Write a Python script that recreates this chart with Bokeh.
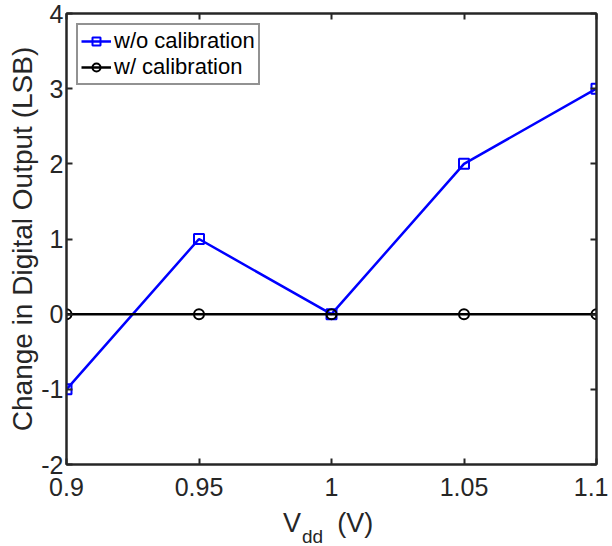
from bokeh.plotting import figure
from bokeh.models import Range1d, LinearAxis, FixedTicker, Div
from bokeh.layouts import column
from bokeh.embed import file_html
from bokeh.resources import INLINE

vdd = [0.9, 0.95, 1.0, 1.05, 1.1]
without_cal = [-1, 1, 0, 2, 3]
with_cal = [0, 0, 0, 0, 0]
x_ticks = [0.9, 0.95, 1.0, 1.05, 1.1]
x_tick_labels = ["0.9", "0.95", "1", "1.05", "1.1"]
y_ticks = [-2, -1, 0, 1, 2, 3, 4]
y_tick_labels = ["-2", "-1", "0", "1", "2", "3", "4"]

FONT = "Liberation Sans"
AX = "#262626"

p = figure(output_backend="svg", toolbar_location=None,
           x_range=Range1d(0.9, 1.1), y_range=Range1d(-2, 4),
           frame_width=530, frame_height=451,
           min_border_left=66, min_border_right=12, min_border_top=13, min_border_bottom=42)
p.grid.visible = False
p.outline_line_color = AX
p.outline_line_width = 2
p.background_fill_color = "white"
p.border_fill_color = "white"

p.line(vdd, without_cal, line_color="#0000ff", line_width=2.5, legend_label="w/o calibration")
p.scatter(vdd, without_cal, marker="square", size=10, line_color="#0000ff", line_width=2,
          fill_color=None, legend_label="w/o calibration")
p.line(vdd, with_cal, line_color="black", line_width=2.5, legend_label="w/ calibration")
p.scatter(vdd, with_cal, marker="circle", size=10, line_color="black", line_width=2,
          fill_color=None, legend_label="w/ calibration")

p.add_layout(LinearAxis(), "right")
p.add_layout(LinearAxis(), "above")

for ax in p.xaxis:
    ax.ticker = FixedTicker(ticks=x_ticks)
for ax in p.yaxis:
    ax.ticker = FixedTicker(ticks=y_ticks)

for ax in list(p.xaxis) + list(p.yaxis):
    ax.axis_line_color = AX
    ax.axis_line_width = 2
    ax.major_tick_line_color = AX
    ax.major_tick_line_width = 2
    ax.major_tick_in = 6
    ax.major_tick_out = 0
    ax.minor_tick_line_color = None
    ax.major_label_text_font = FONT
    ax.major_label_text_font_size = "25px"
    ax.major_label_text_color = AX

p.below[0].major_label_overrides = {t: s for t, s in zip(x_ticks, x_tick_labels)}
p.left[0].major_label_overrides = {t: s for t, s in zip(y_ticks, y_tick_labels)}

# right and above axes: ticks only
for ax in (p.right[0], p.above[0]):
    ax.major_label_text_font_size = "1px"
    ax.major_label_text_color = None
    ax.major_label_standoff = 0

p.below[0].major_label_standoff = 13
p.left[0].major_label_standoff = 3
p.left[0].axis_label = "Change in Digital Output (LSB)"
p.left[0].axis_label_text_font = FONT
p.left[0].axis_label_text_font_size = "28px"
p.left[0].axis_label_text_font_style = "normal"
p.left[0].axis_label_text_color = AX
p.left[0].axis_label_standoff = 0

leg = p.legend[0]
leg.location = "top_left"
leg.margin = 10
leg.padding = 3
leg.spacing = 0
leg.label_height = 24
leg.glyph_width = 30
leg.glyph_height = 20
leg.label_standoff = 3
leg.label_text_font = FONT
leg.label_text_font_size = "22px"
leg.label_text_color = "black"
leg.border_line_color = AX
leg.border_line_width = 2
leg.background_fill_alpha = 1

xlabel_html = (
    '<div style="margin-left:283px; padding-top:4px; font-family:\'Liberation Sans\'; '
    'font-size:27px; line-height:26px; color:#262626; white-space:nowrap">'
    'V<span style="font-size:19px; position:relative; top:11px; margin-left:1px">dd</span>'
    '<span style="margin-left:14px">(V)</span></div>'
)
xlabel = Div(text=xlabel_html, width=596, height=24, margin=0)

layout = column(p, xlabel, spacing=0)
open("out.html", "w").write(file_html(layout, INLINE))
